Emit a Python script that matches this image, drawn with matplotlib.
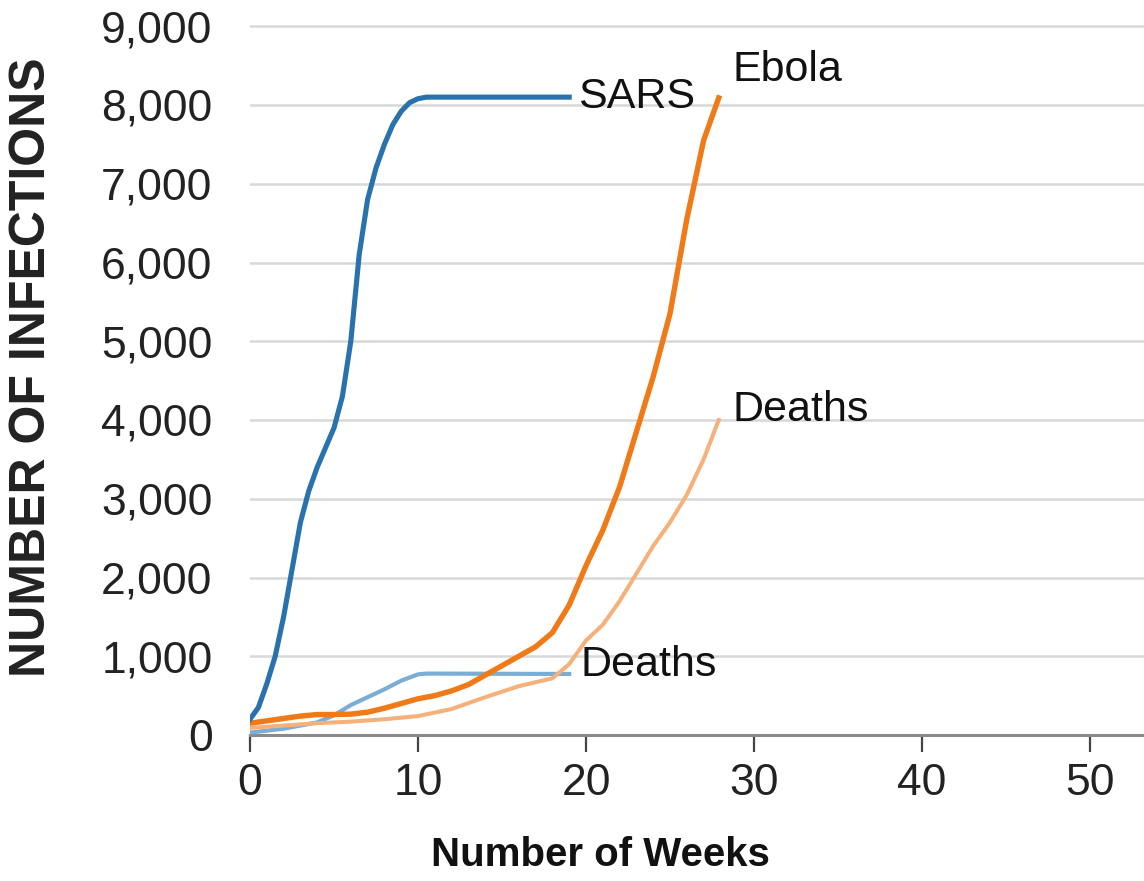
import matplotlib
matplotlib.use("Agg")
import matplotlib.pyplot as plt

plt.rcParams["font.family"] = ["Liberation Sans", "DejaVu Sans"]

# SARS infections (weeks, cases)
sars_weeks = [0, 0.5, 1, 1.5, 2, 2.5, 3, 3.5, 4, 4.5, 5, 5.5, 6, 6.5, 7, 7.5, 8, 8.5, 9, 9.5, 10, 10.5, 11, 19]
sars_cases = [200, 350, 650, 1000, 1500, 2100, 2700, 3100, 3400, 3650, 3900, 4300, 5000, 6100, 6800,
              7200, 7500, 7750, 7920, 8030, 8080, 8100, 8100, 8100]

# SARS deaths
sars_d_weeks = [0, 2, 4, 5, 6, 7, 8, 9, 10, 10.5, 19]
sars_deaths = [30, 80, 160, 250, 380, 480, 580, 690, 770, 780, 775]

# Ebola infections
ebola_weeks = list(range(0, 28)) + [27.9]
ebola_cases = [150, 180, 210, 240, 260, 260, 265, 290, 340, 400, 460, 500, 560, 640, 760, 880,
               1000, 1120, 1300, 1650, 2150, 2600, 3150, 3850, 4550, 5350, 6550, 7550, 8090]

# Ebola deaths
ebola_d_weeks = [0, 2, 4, 6, 8, 10, 12, 14, 16, 18, 19, 20, 21, 22, 23, 24, 25, 26, 27, 27.9]
ebola_deaths = [90, 120, 150, 170, 200, 240, 330, 480, 620, 720, 900, 1200, 1400, 1700, 2050,
                2400, 2700, 3050, 3500, 4000]

x_ticks = [0, 10, 20, 30, 40, 50]
y_ticks = list(range(0, 9001, 1000))
y_tick_labels = ["{:,}".format(v) for v in y_ticks]

fig = plt.figure(figsize=(11.44, 8.81), dpi=100)
ax = fig.add_axes([250 / 1144, 1 - 735 / 881, 1 - 250 / 1144, 724.5 / 881])

blue = "#2a72ad"
orange = "#f07a18"

ax.plot(sars_d_weeks, sars_deaths, color="#7aaed6", lw=3.0, solid_joinstyle="round", zorder=3)
ax.plot(ebola_d_weeks, ebola_deaths, color="#f6b07a", lw=2.9, solid_joinstyle="round", zorder=3)
ax.plot(ebola_weeks, ebola_cases, color=orange, lw=3.9, solid_joinstyle="round", zorder=4)
ax.plot(sars_weeks, sars_cases, color=blue, lw=3.7, solid_joinstyle="round", zorder=5)

ax.text(19.5, 8100, "SARS", fontsize=31, va="center", ha="left", color="#111111")
ax.text(28.7, 8450, "Ebola", fontsize=31, va="center", ha="left", color="#111111")
ax.text(28.7, 4130, "Deaths", fontsize=31, va="center", ha="left", color="#111111")
ax.text(19.7, 890, "Deaths", fontsize=31, va="center", ha="left", color="#111111")

ax.set_xlim(0, (1144 - 250) / 16.8)
ax.set_ylim(0, 9200)
ax.set_xticks(x_ticks)
ax.set_yticks(y_ticks)
ax.set_yticklabels(y_tick_labels)

ax.grid(axis="y", color="#d8d8d8", lw=1.8, zorder=0)
ax.set_axisbelow(True)
for s in ["top", "right", "left"]:
    ax.spines[s].set_visible(False)
ax.spines["bottom"].set_color("#8a8a8a")
ax.spines["bottom"].set_linewidth(2.2)

ax.tick_params(axis="y", length=0, pad=27, labelsize=32, labelcolor="#222222")
ax.tick_params(axis="x", length=12, width=1.6, color="#444444", pad=8, labelsize=32, labelcolor="#222222")

fig.text(32 / 1144, 1 - 367 / 881, "NUMBER OF INFECTIONS", rotation=90, fontsize=36,
         fontweight="bold", ha="center", va="center", color="#222222")
fig.text(600 / 1144, 1 - 855 / 881, "Number of Weeks", fontsize=29, fontweight="bold",
         ha="center", va="center", color="#111111")

fig.savefig("out.png", dpi=100)
